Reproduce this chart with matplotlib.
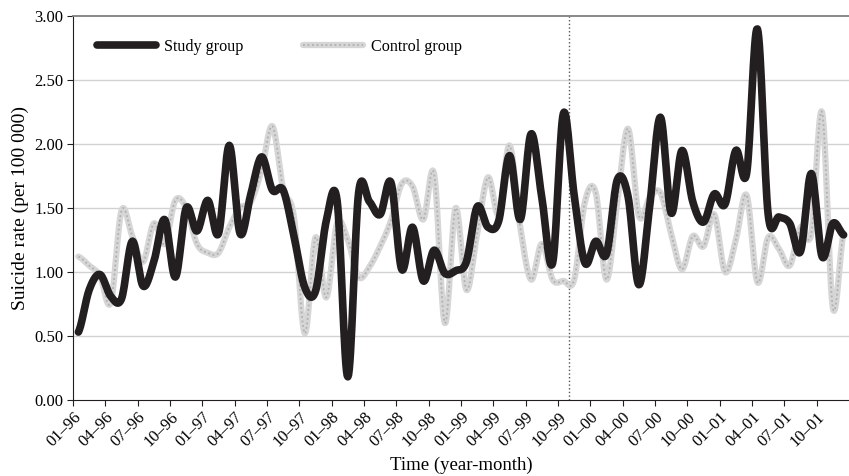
import numpy as np
import matplotlib
matplotlib.use("Agg")
import matplotlib.pyplot as plt

# monthly suicide rates, Jan 1996 - Dec 2001 (per 100 000)
study = [0.53, 0.86, 0.98, 0.81, 0.79, 1.24, 0.89, 1.08, 1.41, 0.96, 1.50, 1.32,
         1.56, 1.30, 1.99, 1.30, 1.61, 1.90, 1.64, 1.64, 1.28, 0.88, 0.85, 1.40,
         1.56, 0.18, 1.62, 1.55, 1.45, 1.70, 1.02, 1.35, 0.93, 1.17, 0.99, 1.01,
         1.08, 1.51, 1.35, 1.40, 1.91, 1.41, 2.08, 1.58, 1.07, 2.24, 1.60, 1.07,
         1.24, 1.14, 1.72, 1.59, 0.90, 1.51, 2.21, 1.46, 1.95, 1.55, 1.39, 1.61,
         1.53, 1.95, 1.77, 2.90, 1.45, 1.43, 1.38, 1.16, 1.77, 1.12, 1.38, 1.29]
control = [1.12, 1.05, 0.97, 0.76, 1.48, 1.28, 1.08, 1.38, 1.22, 1.56, 1.50, 1.22,
           1.15, 1.15, 1.35, 1.50, 1.55, 1.80, 2.14, 1.65, 1.43, 0.52, 1.27, 0.80,
           1.38, 1.25, 0.96, 1.04, 1.20, 1.40, 1.69, 1.67, 1.41, 1.77, 0.60, 1.50,
           0.86, 1.30, 1.74, 1.45, 1.99, 1.35, 0.94, 1.22, 0.94, 0.93, 0.94, 1.55,
           1.62, 0.94, 1.55, 2.12, 1.44, 1.58, 1.62, 1.30, 1.02, 1.28, 1.20, 1.45,
           1.00, 1.25, 1.60, 0.92, 1.27, 1.18, 1.05, 1.35, 1.30, 2.25, 0.72, 1.30]
tick_labels = ["01–96", "04–96", "07–96", "10–96", "01–97", "04–97", "07–97", "10–97",
               "01–98", "04–98", "07–98", "10–98", "01–99", "04–99", "07–99", "10–99",
               "01–00", "04–00", "07–00", "10–00", "01–01", "04–01", "07–01", "10–01"]
intervention = 46  # month index of 11-99


def smooth(y, n=16):
    # Catmull-Rom curve through the points, like a spreadsheet "smoothed line"
    y = np.asarray(y, float)
    p = np.concatenate([[y[0]], y, [y[-1]]])
    t = np.linspace(0, 1, n, endpoint=False)
    xs, ys = [], []
    for i in range(len(y) - 1):
        p0, p1, p2, p3 = p[i], p[i + 1], p[i + 2], p[i + 3]
        seg = 0.5 * (2 * p1 + (-p0 + p2) * t + (2 * p0 - 5 * p1 + 4 * p2 - p3) * t ** 2
                     + (-p0 + 3 * p1 - 3 * p2 + p3) * t ** 3)
        xs.append(i + t)
        ys.append(seg)
    xs.append([len(y) - 1])
    ys.append([y[-1]])
    return np.concatenate(xs), np.concatenate(ys)


plt.rcParams['font.family'] = ['Liberation Serif', 'DejaVu Serif']
plt.rcParams['font.size'] = 12

fig = plt.figure(figsize=(8.49, 4.76), dpi=100)
ax = fig.add_axes([0.086, 0.16, 0.914, 0.806])

for v in np.arange(0.5, 3.0, 0.5):
    ax.axhline(v, color='#d2d2d2', lw=1, zorder=0)

ax.axvline(intervention - 0.5, color='#555555', lw=1, ls=':', zorder=1)

xc, yc = smooth(control)
c1, = ax.plot(xc, yc, color='#d6d6d6', lw=4.5, solid_capstyle='round', zorder=2)
c2, = ax.plot(xc, yc, color='#b0b0b0', lw=1.3, ls=(0, (1, 1.5)), zorder=2)

xs, ys = smooth(study)
s1, = ax.plot(xs, ys, color='#231f20', lw=5.5, solid_capstyle='round', zorder=3)

ax.set_xlim(-0.5, len(study) - 0.5)
ax.set_ylim(0, 3)
ax.set_yticks(np.arange(0, 3.01, 0.5))
ax.set_yticklabels([f"{v:.2f}" for v in np.arange(0, 3.01, 0.5)])
ax.set_xticks(np.arange(len(tick_labels)) * 3 - 0.5)
ax.set_xticklabels(tick_labels, rotation=45, ha='right', va='top', rotation_mode='anchor')
ax.tick_params(axis='both', direction='out', length=4, width=0.8, color='#231f20')
ax.tick_params(axis='x', pad=3)
ax.tick_params(axis='y', pad=3)

ax.spines['right'].set_visible(False)
ax.spines['top'].set_color('#808080')
ax.spines['top'].set_linewidth(1.3)
ax.spines['left'].set_color('#231f20')
ax.spines['bottom'].set_color('#231f20')

ax.set_xlabel("Time (year-month)", fontsize=13.5, va='center')
ax.xaxis.set_label_coords(0.5, -0.172)
ax.set_ylabel("Suicide rate (per 100 000)", fontsize=14, va='center')
ax.yaxis.set_label_coords(-0.068, 0.5)

ax.legend([s1, (c1, c2)], ["Study group", "Control group"], ncol=2, frameon=False,
          loc='center left', bbox_to_anchor=(0.02, 0.92), borderpad=0,
          handlelength=3.7, handletextpad=0.5, columnspacing=3.7,
          prop={'size': 11.6})

plt.savefig("out.png", dpi=100)
